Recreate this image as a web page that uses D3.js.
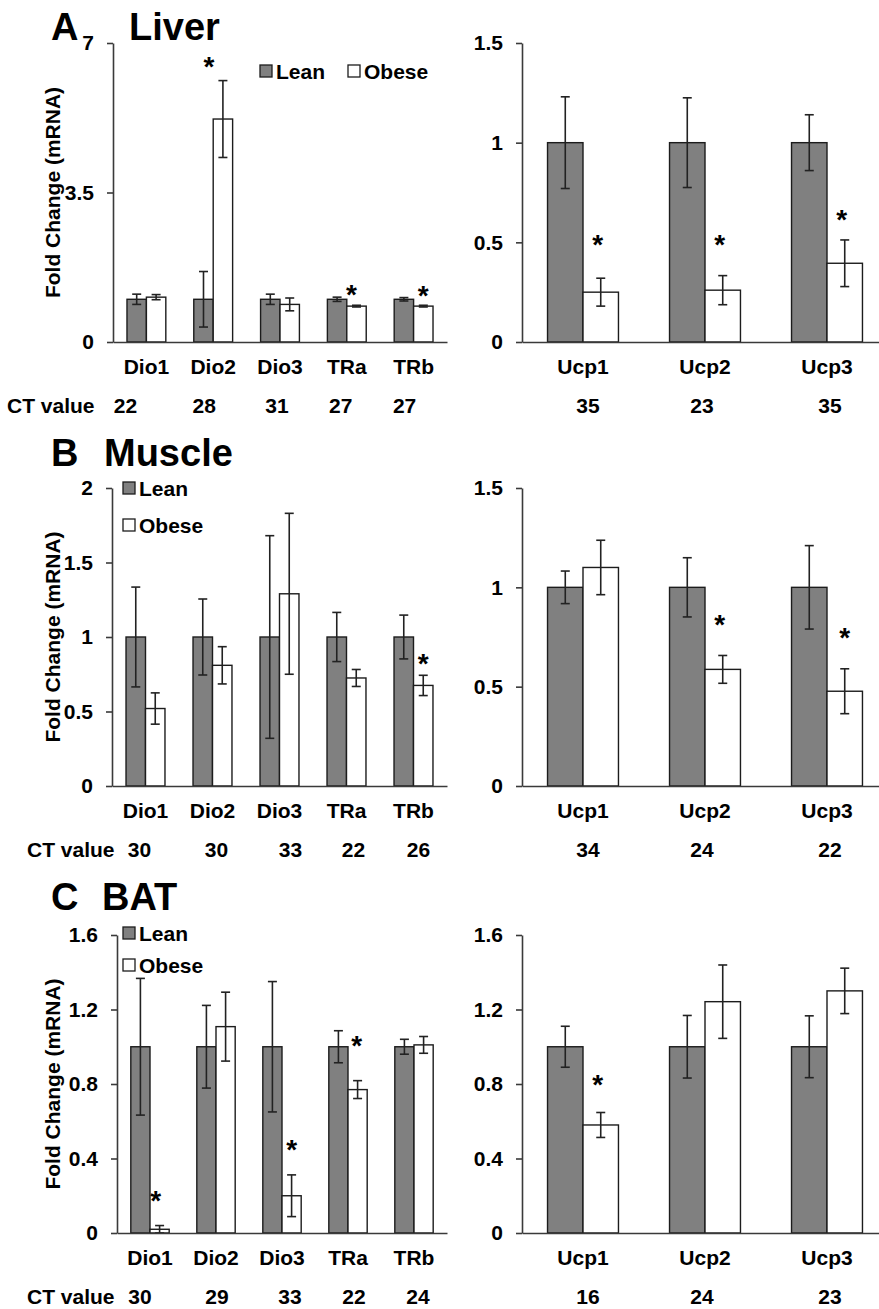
<!DOCTYPE html>
<html>
<head>
<meta charset="utf-8">
<script src="https://cdn.jsdelivr.net/npm/d3@7"></script>
<style>
  html, body { margin: 0; padding: 0; background: #fff; }
  svg text { font-family: "Liberation Sans", Arial, sans-serif; font-weight: bold; fill: #000; }
</style>
</head>
<body>
<svg id="fig" width="879" height="1309"></svg>
<script>
// ---- Data -------------------------------------------------------------
const thyroidGenes = ["Dio1", "Dio2", "Dio3", "TRa", "TRb"];
const ucpGenes = ["Ucp1", "Ucp2", "Ucp3"];
const groups = ["Lean", "Obese"];

// Liver
const liverLean = [1, 1, 1, 1, 1];
const liverLeanErr = [0.12, 0.65, 0.12, 0.05, 0.04];
const liverObese = [1.05, 5.22, 0.88, 0.84, 0.84];
const liverObeseErr = [0.06, 0.9, 0.15, 0.02, 0.02];
const liverSig = [null, 6.56, null, 1.22, 1.18];
const liverCT = [22, 28, 31, 27, 27];
const liverUcpLean = [1, 1, 1];
const liverUcpLeanErr = [0.23, 0.225, 0.14];
const liverUcpObese = [0.25, 0.26, 0.395];
const liverUcpObeseErr = [0.07, 0.073, 0.117];
const liverUcpSig = [0.51, 0.51, 0.637];
const liverUcpCT = [35, 23, 35];

// Muscle
const muscleLean = [1, 1, 1, 1, 1];
const muscleLeanErr = [0.335, 0.255, 0.68, 0.165, 0.147];
const muscleObese = [0.52, 0.81, 1.29, 0.725, 0.675];
const muscleObeseErr = [0.105, 0.125, 0.54, 0.057, 0.068];
const muscleSig = [null, null, null, null, 0.85];
const muscleCT = [30, 30, 33, 22, 26];
const muscleUcpLean = [1, 1, 1];
const muscleUcpLeanErr = [0.082, 0.149, 0.21];
const muscleUcpObese = [1.10, 0.587, 0.477];
const muscleUcpObeseErr = [0.137, 0.07, 0.113];
const muscleUcpSig = [null, 0.834, 0.767];
const muscleUcpCT = [34, 24, 22];

// BAT
const batLean = [1, 1, 1, 1, 1];
const batLeanErr = [0.367, 0.222, 0.35, 0.086, 0.04];
const batObese = [0.02, 1.108, 0.2, 0.77, 1.01];
const batObeseErr = [0.02, 0.185, 0.112, 0.048, 0.045];
const batSig = [0.197, null, 0.474, 1.028, null];
const batCT = [30, 29, 33, 22, 24];
const batUcpLean = [1, 1, 1];
const batUcpLeanErr = [0.11, 0.168, 0.166];
const batUcpObese = [0.58, 1.242, 1.30];
const batUcpObeseErr = [0.067, 0.197, 0.122];
const batUcpSig = [0.822, null, null];
const batUcpCT = [16, 24, 23];

// Axis tick values
const liverTicks = [0, 3.5, 7];
const muscleTicks = [0, 0.5, 1, 1.5, 2];
const ucpTicks15 = [0, 0.5, 1, 1.5];
const batTicks = [0, 0.4, 0.8, 1.2, 1.6];

// ---- Styles -----------------------------------------------------------
const FONT = 21;
const LEAN_FILL = "#808080";
const BAR_STROKE = "#1c1c1c";
const AXIS_COLOR = "#3a3a3a";
const fmt = d3.format("~g");

const svg = d3.select("#fig");

// ---- Drawing helpers ----------------------------------------------------
function drawChart(opt) {
  const g = svg.append("g");
  const y = d3.scaleLinear().domain(opt.domain).range([opt.zero, opt.top]);
  const x = d3.scaleBand().domain(opt.cats).range(opt.xRange).paddingInner(0).paddingOuter(0);
  const sub = d3.scaleBand().domain(groups).range([0, x.bandwidth()])
    .paddingInner(0).paddingOuter(0.72);

  const rows = opt.cats.map((c, i) => ({
    cat: c,
    vals: [
      { grp: "Lean", v: opt.lean[i], e: opt.leanErr[i] },
      { grp: "Obese", v: opt.obese[i], e: opt.obeseErr[i] }
    ],
    sig: opt.sig[i],
    ct: opt.ct[i]
  }));

  // bars
  const cg = g.selectAll("g.cat").data(rows).join("g")
    .attr("transform", d => `translate(${x(d.cat)},0)`);

  cg.selectAll("rect").data(d => d.vals).join("rect")
    .attr("x", d => sub(d.grp))
    .attr("y", d => y(d.v))
    .attr("width", sub.bandwidth())
    .attr("height", d => y(0) - y(d.v))
    .attr("fill", d => d.grp === "Lean" ? LEAN_FILL : "#fff")
    .attr("stroke", BAR_STROKE)
    .attr("stroke-width", 1.4);

  // error bars
  const cap = 4.5;
  const eb = cg.selectAll("g.err").data(d => d.vals).join("g")
    .attr("stroke", "#222").attr("stroke-width", 1.6).attr("fill", "none");
  eb.append("line")
    .attr("x1", d => sub(d.grp) + sub.bandwidth() / 2)
    .attr("x2", d => sub(d.grp) + sub.bandwidth() / 2)
    .attr("y1", d => y(Math.max(0, d.v - d.e)))
    .attr("y2", d => y(d.v + d.e));
  eb.append("line")
    .attr("x1", d => sub(d.grp) + sub.bandwidth() / 2 - cap)
    .attr("x2", d => sub(d.grp) + sub.bandwidth() / 2 + cap)
    .attr("y1", d => y(d.v + d.e)).attr("y2", d => y(d.v + d.e));
  eb.append("line")
    .attr("x1", d => sub(d.grp) + sub.bandwidth() / 2 - cap)
    .attr("x2", d => sub(d.grp) + sub.bandwidth() / 2 + cap)
    .attr("y1", d => y(Math.max(0, d.v - d.e))).attr("y2", d => y(Math.max(0, d.v - d.e)));

  // significance asterisks, centred on the given level
  cg.filter(d => d.sig != null).each(function (d, i) {
    const idx = opt.cats.indexOf(d.cat);
    const nudge = (opt.sigNudge && opt.sigNudge[idx]) || 0;
    const t = d3.select(this).append("text")
      .attr("x", sub("Obese") + sub.bandwidth() / 2 + nudge)
      .attr("y", y(d.sig))
      .attr("text-anchor", "middle")
      .style("font-size", "28px")
      .text("*");
    const bb = t.node().getBBox();
    const cy = bb.y + bb.height * 0.36;
    t.attr("y", y(d.sig) + (y(d.sig) - cy));
  });

  // y axis
  const ya = g.append("g")
    .attr("transform", `translate(${opt.xRange[0]},0)`)
    .call(d3.axisLeft(y).tickValues(opt.ticks).tickFormat(fmt)
      .tickSizeInner(6).tickSizeOuter(0).tickPadding(13));
  ya.selectAll("text").style("font-size", FONT + "px");
  ya.select(".domain").attr("stroke", AXIS_COLOR).attr("stroke-width", 1.6);
  ya.selectAll(".tick line").attr("stroke", AXIS_COLOR).attr("stroke-width", 1.6);

  // x axis
  const xa = g.append("g")
    .attr("transform", `translate(0,${opt.zero})`)
    .call(d3.axisBottom(x).tickSize(0).tickPadding(17.5));
  xa.selectAll("text").style("font-size", FONT + "px");
  xa.select(".domain").attr("stroke", AXIS_COLOR).attr("stroke-width", 1.6);

  // CT values under each gene
  g.selectAll("text.ct").data(rows).join("text")
    .attr("class", "ct")
    .attr("x", (d, i) => x(d.cat) + x.bandwidth() / 2 + (opt.ctNudge ? opt.ctNudge[i] : 0))
    .attr("y", opt.zero + 63 + FONT * 0.36)
    .attr("text-anchor", "middle")
    .style("font-size", FONT + "px")
    .text(d => d.ct);

  return { x, y };
}

function drawTitle(letter, name, baseline, nameX) {
  svg.append("text").attr("x", 51).attr("y", baseline)
    .style("font-size", "38px").text(letter);
  svg.append("text").attr("x", nameX).attr("y", baseline)
    .style("font-size", "38px").text(name);
}

function drawYTitle(top, zero) {
  svg.append("text")
    .attr("transform", `translate(60,${(top + zero) / 2}) rotate(-90)`)
    .attr("text-anchor", "middle")
    .style("font-size", FONT + "px")
    .text("Fold Change (mRNA)");
}

function drawLegend(items) {
  items.forEach(it => {
    svg.append("rect")
      .attr("x", it.x).attr("y", it.y - 6)
      .attr("width", 12).attr("height", 12)
      .attr("fill", it.grp === "Lean" ? LEAN_FILL : "#fff")
      .attr("stroke", BAR_STROKE).attr("stroke-width", 1.3);
    svg.append("text")
      .attr("x", it.x + 16).attr("y", it.y + FONT * 0.36)
      .style("font-size", FONT + "px")
      .text(it.grp);
  });
}

function drawCTLabel(x, zero) {
  svg.append("text").attr("x", x).attr("y", zero + 63 + FONT * 0.36)
    .style("font-size", FONT + "px").text("CT value");
}

const RIGHT_X = [522, 888];
const RIGHT_CT_NUDGE = [5, -3, 3];

// ---- A: Liver ---------------------------------------------------------
drawTitle("A", "Liver", 40, 129);
drawYTitle(43, 342);
drawChart({
  cats: thyroidGenes, xRange: [113, 447], top: 43, zero: 342,
  domain: [0, 7], ticks: liverTicks,
  lean: liverLean, leanErr: liverLeanErr, obese: liverObese, obeseErr: liverObeseErr,
  sig: liverSig, ct: liverCT, sigNudge: [0, -14, 0, -5, 0], ctNudge: [-21, -9, -3, -6, -9]
});
drawChart({
  cats: ucpGenes, xRange: RIGHT_X, top: 43, zero: 342,
  domain: [0, 1.5], ticks: ucpTicks15,
  lean: liverUcpLean, leanErr: liverUcpLeanErr, obese: liverUcpObese, obeseErr: liverUcpObeseErr,
  sig: liverUcpSig, ct: liverUcpCT, sigNudge: [-3, -3, -3], ctNudge: RIGHT_CT_NUDGE
});
drawLegend([{ grp: "Lean", x: 260, y: 71 }, { grp: "Obese", x: 348, y: 71 }]);
drawCTLabel(7, 342);

// ---- B: Muscle --------------------------------------------------------
drawTitle("B", "Muscle", 466, 104);
drawYTitle(488, 786);
drawChart({
  cats: thyroidGenes, xRange: [112, 447], top: 488, zero: 786,
  domain: [0, 2], ticks: muscleTicks,
  lean: muscleLean, leanErr: muscleLeanErr, obese: muscleObese, obeseErr: muscleObeseErr,
  sig: muscleSig, ct: muscleCT, ctNudge: [-6, 4, 11, 7, 5]
});
drawChart({
  cats: ucpGenes, xRange: RIGHT_X, top: 488, zero: 786,
  domain: [0, 1.5], ticks: ucpTicks15,
  lean: muscleUcpLean, leanErr: muscleUcpLeanErr, obese: muscleUcpObese, obeseErr: muscleUcpObeseErr,
  sig: muscleUcpSig, ct: muscleUcpCT, sigNudge: [0, -3, 0], ctNudge: RIGHT_CT_NUDGE
});
drawLegend([{ grp: "Lean", x: 123, y: 488 }, { grp: "Obese", x: 123, y: 525 }]);
drawCTLabel(27, 786);

// ---- C: BAT -----------------------------------------------------------
drawTitle("C", "BAT", 910, 102);
drawYTitle(935, 1233);
drawChart({
  cats: thyroidGenes, xRange: [117, 447], top: 935, zero: 1233,
  domain: [0, 1.6], ticks: batTicks,
  lean: batLean, leanErr: batLeanErr, obese: batObese, obeseErr: batObeseErr,
  sig: batSig, ct: batCT, sigNudge: [-4, 0, 0, -1, 0], ctNudge: [-10, 1, 8, 6, 4]
});
drawChart({
  cats: ucpGenes, xRange: RIGHT_X, top: 935, zero: 1233,
  domain: [0, 1.6], ticks: batTicks,
  lean: batUcpLean, leanErr: batUcpLeanErr, obese: batUcpObese, obeseErr: batUcpObeseErr,
  sig: batUcpSig, ct: batUcpCT, sigNudge: [-3, 0, 0], ctNudge: RIGHT_CT_NUDGE
});
drawLegend([{ grp: "Lean", x: 123, y: 933 }, { grp: "Obese", x: 123, y: 965 }]);
drawCTLabel(27, 1233);
</script>
</body>
</html>
